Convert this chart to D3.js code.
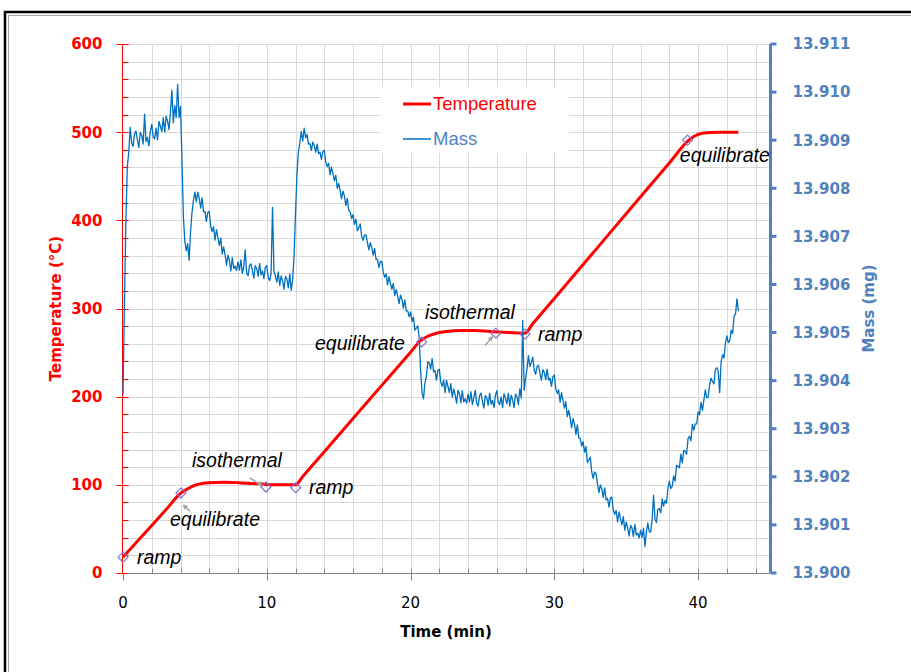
<!DOCTYPE html>
<html><head><meta charset="utf-8">
<script src="https://cdn.jsdelivr.net/npm/d3@7"></script>
<style>body{margin:0;background:#fff;} svg{display:block}</style>
</head><body><svg id="c" width="911" height="672"></svg>
<script>
// ---------- DATA ----------
const tempTime  = [0, 1, 2, 3, 4.03, 4.5, 5.0, 5.5, 6.0, 7.0, 8.0, 9.0, 10.0, 11.0, 12.0, 12.5, 14, 16, 18, 20, 20.7, 21.2, 21.8, 22.5, 23.5, 24.5, 25.5, 26.5, 27.95, 28.5, 30, 32, 34, 36, 38, 39.3, 39.7, 40.2, 40.8, 41.5, 42.8];
const tempValue = [18, 36, 54, 72, 90.7, 95.5, 99.5, 101.5, 102.5, 103, 102.5, 101.5, 100.5, 100, 100, 109.4, 137.6, 175.2, 212.8, 250.4, 263.5, 268.5, 272, 274, 275, 275, 274, 273, 272, 282.6, 311.4, 349.8, 388.3, 426.7, 465.1, 490, 495, 498.5, 499.5, 500, 500];

const massStart = 0, massStep = 0.1; // minutes between mass readings
const massValue = [
13.90371,13.90560,13.90730,13.90845,13.90875,13.90927,13.90894,13.90887,13.90913,13.90919,
13.90901,13.90885,13.90916,13.90910,13.90892,13.90954,13.90897,13.90906,13.90888,13.90918,
13.90933,13.90907,13.90903,13.90925,13.90901,13.90939,13.90929,13.90918,13.90947,13.90917,
13.90950,13.90940,13.90922,13.90958,13.91004,13.90936,13.90972,13.90947,13.91016,13.90947,
13.90970,13.90860,13.90740,13.90690,13.90670,13.90685,13.90650,13.90710,13.90750,13.90775,
13.90792,13.90772,13.90792,13.90780,13.90759,13.90780,13.90751,13.90752,13.90731,13.90750,
13.90752,13.90721,13.90710,13.90720,13.90692,13.90714,13.90698,13.90681,13.90697,13.90663,
13.90678,13.90662,13.90640,13.90661,13.90650,13.90628,13.90656,13.90633,13.90638,13.90629,
13.90647,13.90630,13.90651,13.90623,13.90637,13.90672,13.90624,13.90618,13.90639,13.90643,
13.90628,13.90613,13.90639,13.90633,13.90617,13.90644,13.90620,13.90628,13.90612,13.90636,
13.90639,13.90614,13.90608,13.90623,13.90760,13.90628,13.90617,13.90605,13.90626,13.90598,
13.90618,13.90607,13.90590,13.90617,13.90611,13.90593,13.90622,13.90588,13.90610,13.90660,
13.90750,13.90830,13.90875,13.90895,13.90918,13.90898,13.90925,13.90905,13.90912,13.90892,
13.90893,13.90879,13.90896,13.90889,13.90875,13.90892,13.90872,13.90875,13.90860,13.90876,
13.90879,13.90855,13.90845,13.90852,13.90828,13.90844,13.90830,13.90816,13.90827,13.90800,
13.90810,13.90796,13.90778,13.90794,13.90784,13.90764,13.90779,13.90754,13.90751,13.90737,
13.90745,13.90725,13.90736,13.90712,13.90718,13.90726,13.90700,13.90692,13.90703,13.90703,
13.90687,13.90672,13.90687,13.90677,13.90661,13.90675,13.90652,13.90652,13.90635,13.90648,
13.90648,13.90625,13.90615,13.90622,13.90599,13.90616,13.90602,13.90590,13.90602,13.90577,
13.90589,13.90577,13.90560,13.90578,13.90569,13.90551,13.90568,13.90545,13.90545,13.90533,
13.90543,13.90523,13.90532,13.90505,13.90509,13.90514,13.90490,13.90420,13.90375,13.90362,
13.90395,13.90408,13.90439,13.90437,13.90424,13.90446,13.90418,13.90421,13.90401,13.90421,
13.90424,13.90397,13.90388,13.90401,13.90375,13.90401,13.90388,13.90375,13.90394,13.90365,
13.90383,13.90371,13.90353,13.90380,13.90373,13.90354,13.90379,13.90356,13.90362,13.90353,
13.90372,13.90356,13.90377,13.90350,13.90364,13.90380,13.90353,13.90347,13.90369,13.90374,
13.90357,13.90343,13.90369,13.90364,13.90349,13.90374,13.90351,13.90359,13.90344,13.90369,
13.90379,13.90355,13.90350,13.90366,13.90344,13.90373,13.90363,13.90352,13.90374,13.90347,
13.90370,13.90360,13.90344,13.90372,13.90367,13.90350,13.90383,13.90364,13.90525,13.90380,
13.90405,13.90425,13.90452,13.90429,13.90438,13.90449,13.90422,13.90413,13.90430,13.90432,
13.90415,13.90401,13.90423,13.90417,13.90402,13.90424,13.90401,13.90405,13.90388,13.90408,
13.90412,13.90384,13.90373,13.90381,13.90355,13.90375,13.90359,13.90343,13.90357,13.90325,
13.90338,13.90323,13.90302,13.90321,13.90310,13.90288,13.90308,13.90281,13.90280,13.90264,
13.90273,13.90251,13.90263,13.90230,13.90235,13.90241,13.90210,13.90197,13.90210,13.90207,
13.90186,13.90167,13.90183,13.90175,13.90157,13.90177,13.90152,13.90155,13.90137,13.90156,
13.90158,13.90131,13.90122,13.90130,13.90106,13.90127,13.90113,13.90100,13.90117,13.90089,
13.90106,13.90094,13.90077,13.90099,13.90094,13.90076,13.90101,13.90079,13.90083,13.90073,
13.90089,13.90074,13.90093,13.90055,13.90085,13.90104,13.90086,13.90085,13.90110,13.90162,
13.90112,13.90105,13.90133,13.90134,13.90125,13.90154,13.90139,13.90151,13.90145,13.90176,
13.90191,13.90176,13.90180,13.90202,13.90191,13.90224,13.90222,13.90219,13.90247,13.90229,
13.90255,13.90253,13.90247,13.90280,13.90284,13.90275,13.90309,13.90297,13.90310,13.90310,
13.90335,13.90329,13.90355,13.90338,13.90359,13.90381,13.90364,13.90365,13.90392,13.90405,
13.90398,13.90393,13.90423,13.90427,13.90420,13.90375,13.90439,13.90454,13.90447,13.90478,
13.90493,13.90479,13.90483,13.90505,13.90498,13.90535,13.90538,13.90570,13.90545
];

const markerTime = [0, 4.03, 9.94, 12.01, 20.77, 25.94, 27.96, 39.27];
const markerTemp = [18, 90.7, 97.5, 96.7, 262, 272, 271, 491];

const noteText = ["ramp", "equilibrate", "isothermal", "ramp", "equilibrate", "isothermal", "ramp", "equilibrate"];
const noteTime = [0.97, 3.27, 4.8, 12.93, 13.35, 21.0, 28.86, 38.73];
const noteTemp = [18, 61, 128, 97.5, 261, 296, 271, 474];

// small grey pointer arrows (from -> to, in time / temperature)
const arrowFromTime = [4.66, 8.8, 25.17];
const arrowFromTemp = [70, 108, 258];
const arrowToTime   = [4.2, 9.65, 25.7];
const arrowToTemp   = [77, 99.5, 268];

const timeTicks = [0, 10, 20, 30, 40];
const tempTicks = [0, 100, 200, 300, 400, 500, 600];
const massTicks = [13.900, 13.901, 13.902, 13.903, 13.904, 13.905, 13.906, 13.907, 13.908, 13.909, 13.910, 13.911];
const legendLabels = ["Temperature", "Mass"];

// ---------- LAYOUT ----------
const L = 123, R = 770, T = 44, B = 573;
const svg = d3.select("#c");
const x = d3.scaleLinear().domain([0, 45]).range([L, R]);
const yT = d3.scaleLinear().domain([0, 600]).range([B, T]);
const yM = d3.scaleLinear().domain([13.900, 13.911]).range([B, T]);

const RED = "#FF0000", BLUE = "#0070C0", AXB = "#4F81BD", GRID = "#D9D9D9";

// frame
svg.append("rect").attr("x", 5).attr("y", 12).attr("width", 960).attr("height", 700)
  .attr("fill", "none").attr("stroke", "#000").attr("stroke-width", 2.5);
svg.append("rect").attr("x", 8.5).attr("y", 15.5).attr("width", 960).attr("height", 700)
  .attr("fill", "none").attr("stroke", "#A6A6A6").attr("stroke-width", 1);

// gridlines
const vGrid = d3.range(2, 45, 2);
const hGrid = d3.range(20, 601, 20);
svg.append("g").selectAll("line").data(vGrid).join("line")
  .attr("x1", d => Math.round(x(d)) + 0.5).attr("x2", d => Math.round(x(d)) + 0.5)
  .attr("y1", T).attr("y2", B).attr("stroke", GRID).attr("stroke-width", 1);
svg.append("g").selectAll("line").data(hGrid).join("line")
  .attr("y1", d => Math.round(yT(d)) + 0.5).attr("y2", d => Math.round(yT(d)) + 0.5)
  .attr("x1", L).attr("x2", R).attr("stroke", GRID).attr("stroke-width", 1);

// x axis
const xg = svg.append("g").attr("transform", `translate(0,${B + 0.5})`);
xg.append("line").attr("x1", L).attr("x2", R).attr("stroke", "#868686");
xg.selectAll(".mn").data(d3.range(2, 45, 2)).join("line")
  .attr("x1", d => Math.round(x(d)) + 0.5).attr("x2", d => Math.round(x(d)) + 0.5)
  .attr("y1", 0).attr("y2", -5).attr("stroke", "#868686");
xg.selectAll(".mj").data(timeTicks).join("line")
  .attr("x1", d => Math.round(x(d)) + 0.5).attr("x2", d => Math.round(x(d)) + 0.5)
  .attr("y1", 0).attr("y2", 7).attr("stroke", "#868686");
xg.selectAll("text").data(timeTicks).join("text")
  .attr("x", d => x(d)).attr("y", 34).attr("text-anchor", "middle")
  .attr("font-family", "DejaVu Sans").attr("font-size", 15).attr("fill", "#000")
  .text(d => d);
svg.append("text").attr("x", 446).attr("y", 637).attr("text-anchor", "middle")
  .attr("font-family", "DejaVu Sans").attr("font-weight", "bold").attr("font-size", 15)
  .text("Time (min)");

// left axis
const lg = svg.append("g").attr("transform", `translate(${L - 0.5},0)`);
lg.append("line").attr("y1", T).attr("y2", B).attr("stroke", RED);
lg.selectAll(".mn").data(hGrid).join("line")
  .attr("y1", d => Math.round(yT(d)) + 0.5).attr("y2", d => Math.round(yT(d)) + 0.5)
  .attr("x1", 0).attr("x2", 6).attr("stroke", RED);
lg.selectAll(".mj").data(tempTicks).join("line")
  .attr("y1", d => Math.round(yT(d)) + 0.5).attr("y2", d => Math.round(yT(d)) + 0.5)
  .attr("x1", -6).attr("x2", 6).attr("stroke", RED);
lg.selectAll("text").data(tempTicks).join("text")
  .attr("x", -20).attr("y", d => yT(d)).attr("dy", "0.36em").attr("text-anchor", "end")
  .attr("font-family", "DejaVu Sans").attr("font-weight", "bold").attr("font-size", 15)
  .attr("fill", RED).text(d => d);
svg.append("text").attr("transform", `translate(61,${(T + B) / 2}) rotate(-90)`)
  .attr("text-anchor", "middle").attr("font-family", "DejaVu Sans").attr("font-weight", "bold")
  .attr("font-size", 15).attr("fill", RED).text("Temperature (°C)");

// right axis
const rg = svg.append("g").attr("transform", `translate(${R + 0.5},0)`);
rg.append("line").attr("y1", T).attr("y2", B).attr("stroke", AXB).attr("stroke-width", 3);
rg.selectAll(".mj").data(massTicks).join("line")
  .attr("y1", d => yM(d)).attr("y2", d => yM(d))
  .attr("x1", 0).attr("x2", 6).attr("stroke", AXB).attr("stroke-width", 3);
rg.selectAll("text").data(massTicks).join("text")
  .attr("x", 22).attr("y", d => yM(d)).attr("dy", "0.36em")
  .attr("font-family", "DejaVu Sans").attr("font-weight", "bold").attr("font-size", 15)
  .attr("fill", AXB).text(d => d3.format(".3f")(d));
svg.append("text").attr("transform", `translate(874,${(T + B) / 2}) rotate(-90)`)
  .attr("text-anchor", "middle").attr("font-family", "DejaVu Sans").attr("font-weight", "bold")
  .attr("font-size", 15).attr("fill", AXB).text("Mass (mg)");

// legend
const lgd = svg.append("g");
lgd.append("rect").attr("x", 381).attr("y", 87).attr("width", 188).attr("height", 66).attr("fill", "#fff");
const legendColors = [RED, BLUE], legendWidths = [3, 1.5], legendText = [RED, AXB];
legendLabels.forEach((lab, i) => {
  const yy = 104 + i * 35;
  lgd.append("line").attr("x1", 403).attr("x2", 431).attr("y1", yy).attr("y2", yy)
    .attr("stroke", legendColors[i]).attr("stroke-width", legendWidths[i]);
  lgd.append("text").attr("x", 433).attr("y", yy).attr("dy", "0.35em")
    .attr("font-family", "Liberation Sans").attr("font-size", 18.5).attr("fill", legendText[i]).text(lab);
});

// series
const tempData = tempTime.map((t, i) => [t, tempValue[i]]);
svg.append("path").datum(tempData)
  .attr("d", d3.line().x(d => x(d[0])).y(d => yT(d[1])).curve(d3.curveMonotoneX))
  .attr("fill", "none").attr("stroke", RED).attr("stroke-width", 3).attr("stroke-linejoin", "round");

const massData = massValue.map((m, i) => [massStart + i * massStep, m]);
svg.append("path").datum(massData)
  .attr("d", d3.line().x(d => x(d[0])).y(d => yM(d[1])))
  .attr("fill", "none").attr("stroke", BLUE).attr("stroke-width", 1.3).attr("stroke-linejoin", "round");

// markers
svg.append("g").selectAll("path").data(markerTime.map((t, i) => [t, markerTemp[i]])).join("path")
  .attr("transform", d => `translate(${x(d[0])},${yT(d[1])})`)
  .attr("d", d3.symbol().type(d3.symbolDiamond2).size(64))
  .attr("fill", "none").attr("stroke", "#8E6FC8").attr("stroke-width", 1.2);

// arrows
const defs = svg.append("defs");
defs.append("marker").attr("id", "ah").attr("viewBox", "0 0 10 10").attr("refX", 8).attr("refY", 5)
  .attr("markerWidth", 3.5).attr("markerHeight", 3.5).attr("orient", "auto")
  .append("path").attr("d", "M0,0 L10,5 L0,10 z").attr("fill", "#A6A6A6");
svg.append("g").selectAll("line").data(arrowFromTime.map((t, i) => i)).join("line")
  .attr("x1", i => x(arrowFromTime[i])).attr("y1", i => yT(arrowFromTemp[i]))
  .attr("x2", i => x(arrowToTime[i])).attr("y2", i => yT(arrowToTemp[i]))
  .attr("stroke", "#A6A6A6").attr("stroke-width", 1.5).attr("marker-end", "url(#ah)");

// notes
svg.append("g").selectAll("text").data(noteText).join("text")
  .attr("x", (d, i) => x(noteTime[i])).attr("y", (d, i) => yT(noteTemp[i])).attr("dy", "0.35em")
  .attr("font-family", "Liberation Sans").attr("font-style", "italic").attr("font-size", 19.5)
  .attr("fill", "#000").text(d => d);
</script></body></html>
